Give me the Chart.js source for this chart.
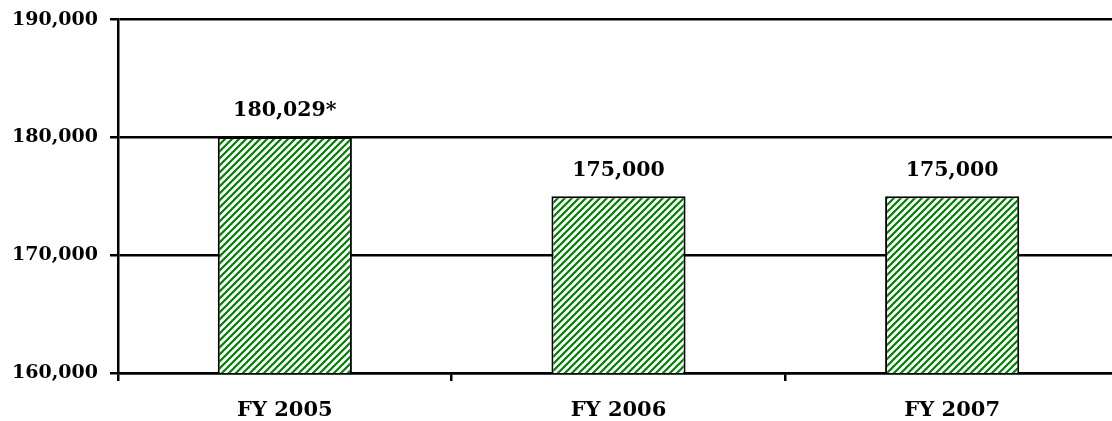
<!DOCTYPE html>
<html>
<head>
<meta charset="utf-8">
<script src="https://cdn.jsdelivr.net/npm/chart.js@4/dist/chart.umd.min.js"></script>
<style>
  html, body { margin: 0; padding: 0; background: #fff; overflow: hidden; }
  #wrap { width: 1125px; height: 421px; }
</style>
</head>
<body>
<div id="wrap"><canvas id="myChart" width="1125" height="421"></canvas></div>
<script>
const categories = ["FY 2005", "FY 2006", "FY 2007"];
const values = [180029, 175000, 175000];
const valueLabels = ["180,029*", "175,000", "175,000"];
const yMin = 160000;
const yMax = 190000;
const yStep = 10000;

const FONT = "'DejaVu Serif', serif";

// diagonal green hatch for the bars
function makeHatch() {
	const size = 7;
	const c = document.createElement("canvas");
	c.width = size;
	c.height = size;
	const g = c.getContext("2d");
	g.fillStyle = "#ffffff";
	g.fillRect(0, 0, size, size);
	g.strokeStyle = "#008000";
	g.lineWidth = 2.2;
	g.beginPath();
	g.moveTo(-size, size * 2);
	g.lineTo(size * 2, -size);
	g.moveTo(-size, size);
	g.lineTo(size, -size);
	g.moveTo(0, size * 2);
	g.lineTo(size * 2, 0);
	g.stroke();
	return g.createPattern(c, "repeat");
}

// value labels above each bar
const topLabels = {
	id: "topLabels",
	afterDatasetsDraw(chart) {
		const ctx = chart.ctx;
		const meta = chart.getDatasetMeta(0);
		ctx.save();
		ctx.font = "bold 20.5px " + FONT;
		ctx.fillStyle = "#000";
		ctx.textAlign = "center";
		ctx.textBaseline = "middle";
		meta.data.forEach((bar, i) => {
			ctx.fillText(valueLabels[i], bar.x, bar.y - 26);
		});
		ctx.restore();
	},
};

const ctx = document.getElementById("myChart").getContext("2d");
const myChart = new Chart(ctx, {
	type: "bar",
	data: {
		labels: categories,
		datasets: [
			{
				data: values,
				backgroundColor: makeHatch(),
				borderColor: "#000",
				borderWidth: 2,
				borderSkipped: false,
				categoryPercentage: 1,
				barPercentage: 0.402,
			},
		],
	},
	options: {
		responsive: false,
		animation: false,
		layout: { padding: { top: 18.5, right: 6, left: 0, bottom: 0 } },
		plugins: {
			legend: { display: false },
			tooltip: { enabled: false },
		},
		scales: {
			x: {
				grid: {
					offset: true,
					drawOnChartArea: false,
					color: "#000",
					lineWidth: 2.5,
					tickLength: 8,
				},
				border: { color: "#000", width: 2.5 },
				ticks: {
					color: "#000",
					font: { family: FONT, size: 21, weight: "bold" },
					padding: 17,
				},
				afterFit(scale) {
					scale.height = 48;
				},
			},
			y: {
				min: yMin,
				max: yMax,
				grid: { color: "#000", lineWidth: 2.5, tickLength: 8 },
				border: { color: "#000", width: 2.5 },
				ticks: {
					stepSize: yStep,
					color: "#000",
					font: { family: FONT, size: 19, weight: "bold", lineHeight: 0.8 },
					padding: 12,
					callback: (v) => v.toLocaleString("en-US"),
				},
				afterFit(scale) {
					scale.width = 118;
				},
			},
		},
	},
	plugins: [topLabels],
});
</script>
</body>
</html>
